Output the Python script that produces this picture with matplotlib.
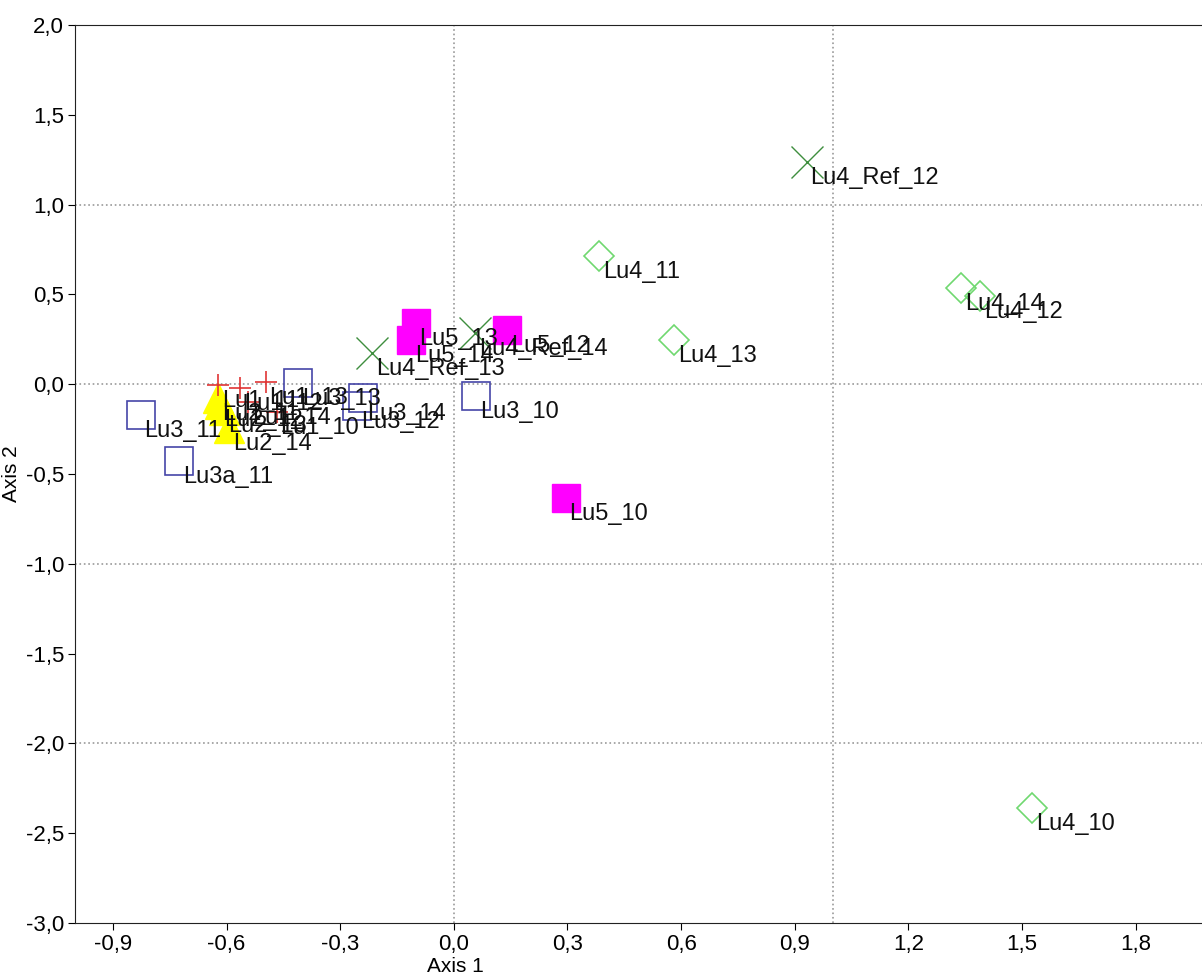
import matplotlib
matplotlib.use("Agg")
import matplotlib.pyplot as plt
from matplotlib.ticker import MultipleLocator, FuncFormatter

plt.rcParams['font.family'] = ['Liberation Sans', 'DejaVu Sans']

# groups: labels, axis 1, axis 2
lu1_labels = ["Lu1_11", "Lu1_12", "Lu1_13", "Lu1_14", "Lu1_10"]
lu1_x = [-0.622, -0.564, -0.497, -0.543, -0.468]
lu1_y = [-0.006, -0.022, 0.011, -0.100, -0.156]

lu2_labels = ["Lu2_11", "Lu2_12", "Lu2_13", "Lu2_14"]
lu2_x = [-0.622, -0.617, -0.606, -0.593]
lu2_y = [-0.078, -0.111, -0.145, -0.245]

lu3_labels = ["Lu3_10", "Lu3_11", "Lu3_12", "Lu3_13", "Lu3_14", "Lu3a_11"]
lu3_x = [0.059, -0.827, -0.255, -0.412, -0.239, -0.726]
lu3_y = [-0.067, -0.173, -0.122, 0.006, -0.078, -0.429]

lu4_labels = ["Lu4_10", "Lu4_11", "Lu4_12", "Lu4_13", "Lu4_14"]
lu4_x = [1.527, 0.383, 1.388, 0.582, 1.340]
lu4_y = [-2.361, 0.713, 0.490, 0.245, 0.535]

ref_labels = ["Lu4_Ref_12", "Lu4_Ref_13", "Lu4_Ref_14"]
ref_x = [0.931, -0.215, 0.056]
ref_y = [1.236, 0.173, 0.284]

lu5_labels = ["Lu5_10", "Lu5_12", "Lu5_13", "Lu5_14"]
lu5_x = [0.295, 0.141, -0.101, -0.112]
lu5_y = [-0.635, 0.300, 0.340, 0.245]

fig = plt.figure(figsize=(12.02, 9.76), dpi=100)
ax = fig.add_axes([75/1202, 53/976, 1 - 75/1202, 898/976])

# dotted reference lines
for v in [0.0, 1.0]:
    ax.axvline(v, ls=":", color="#999999", lw=1.2, zorder=0)
for h in [1.0, 0.0, -1.0, -2.0]:
    ax.axhline(h, ls=":", color="#999999", lw=1.2, zorder=0)

ax.plot(lu3_x, lu3_y, "s", ms=20, mfc="none", mec="#4545a8", mew=1.2, ls="none")
ax.plot(lu5_x, lu5_y, "s", ms=20, mfc="#ff00ff", mec="#ff00ff", ls="none")
ax.plot(lu4_x, lu4_y, "D", ms=15, mfc="none", mec="#70d870", mew=1.2, ls="none")
ax.plot(ref_x, ref_y, "x", ms=23, mec="#3e8e3e", mew=1.0, ls="none")
ax.plot(lu2_x, lu2_y, "^", ms=21, mfc="#ffff00", mec="#ffff00", ls="none")
ax.plot(lu1_x, lu1_y, "+", ms=16, mec="#e03535", mew=1.2, ls="none")

for labs, xs, ys in [(lu3_labels, lu3_x, lu3_y), (lu5_labels, lu5_x, lu5_y),
                     (lu4_labels, lu4_x, lu4_y), (ref_labels, ref_x, ref_y),
                     (lu2_labels, lu2_x, lu2_y), (lu1_labels, lu1_x, lu1_y)]:
    for lab, x, y in zip(labs, xs, ys):
        ax.annotate(lab, (x, y), xytext=(4, -16), textcoords="offset pixels",
                    ha="left", va="center", fontsize=17, color="#111111")

ax.set_xlim(-1.0, 1.975)
ax.set_ylim(-3.0, 2.0)
ax.xaxis.set_major_locator(MultipleLocator(0.3))
ax.yaxis.set_major_locator(MultipleLocator(0.5))
fmt = FuncFormatter(lambda v, p: f"{v:.1f}".replace(".", ",").replace("-0,0", "0,0"))
ax.xaxis.set_major_formatter(fmt)
ax.yaxis.set_major_formatter(fmt)
ax.tick_params(direction="out", length=5, labelsize=16, pad=3)

ax.spines["right"].set_visible(False)
for s in ["left", "bottom", "top"]:
    ax.spines[s].set_color("#222222")

ax.set_xlabel("Axis 1", fontsize=15)
ax.set_ylabel("Axis 2", fontsize=15)
ax.xaxis.set_label_coords((455 - 75) / 1127, -0.038)
ax.yaxis.set_label_coords(-0.048, 0.5)

fig.savefig("out.png", dpi=100)
